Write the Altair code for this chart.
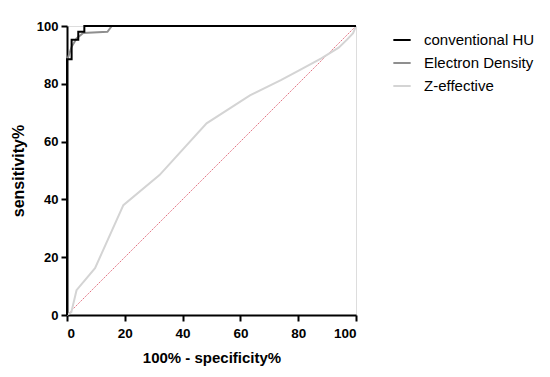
import altair as alt
import pandas as pd

series_names = ["conventional HU", "Electron Density", "Z-effective"]
series_colors = ["#000000", "#8f8f8f", "#d4d4d4"]

hu_x = [0, 0, 1.6, 1.6, 3.9, 3.9, 6.0, 6.0, 100]
hu_y = [0, 88.5, 88.5, 95.2, 95.2, 98, 98, 100, 100]

ed_x = [0, 0, 1.6, 3.3, 5.6, 14, 15.5, 100]
ed_y = [0, 88, 92.8, 95.7, 97.6, 98, 100, 100]

z_x = [0, 1.5, 3.3, 9.7, 19.5, 32, 48.3, 63.3, 74, 80, 88, 94, 96.8, 99, 100]
z_y = [0, 1, 8.6, 16.2, 38, 48.4, 66.3, 76, 81.3, 84.5, 88.8, 92.5, 95.2, 97.5, 100]

diag_x = [0, 100]
diag_y = [0, 100]

rows = []
for k, (name, xs, ys) in enumerate(zip(series_names, [hu_x, ed_x, z_x], [hu_y, ed_y, z_y])):
    for i, (a, b) in enumerate(zip(xs, ys)):
        rows.append({"series": name, "x": a, "y": b, "order": i})
df = pd.DataFrame(rows)
diag = pd.DataFrame({"x": diag_x, "y": diag_y})

font = "Liberation Sans"

xscale = alt.Scale(domain=[0, 100], nice=False)
yscale = alt.Scale(domain=[0, 100], nice=False)

x_axis = alt.Axis(values=[0, 20, 40, 60, 80, 100], grid=False, domainColor="black",
                  domainWidth=2, tickColor="black", tickWidth=2, tickSize=6,
                  labelFont=font, labelFontWeight="bold", labelFontSize=13.5,
                  labelColor="black", titleFont=font, titleFontWeight="bold",
                  titleFontSize=15, titleColor="black", labelPadding=5, titlePadding=11)
y_axis = alt.Axis(values=[0, 20, 40, 60, 80, 100], grid=False, domainColor="black",
                  domainWidth=2, tickColor="black", tickWidth=2, tickSize=6,
                  labelFont=font, labelFontWeight="bold", labelFontSize=13,
                  labelColor="black", titleFont=font, titleFontWeight="bold",
                  titleFontSize=16, titleColor="black", labelPadding=3, titlePadding=10)

diag_line = alt.Chart(diag).mark_line(color="#e2707f", strokeWidth=1, strokeDash=[1.5, 1]).encode(
    x=alt.X("x:Q", scale=xscale, axis=x_axis, title="100% - specificity%"),
    y=alt.Y("y:Q", scale=yscale, axis=y_axis, title="sensitivity%"),
)

color_enc = alt.Color("series:N", scale=alt.Scale(domain=series_names, range=series_colors),
                      sort=series_names,
                      legend=alt.Legend(title=None, orient="none", legendX=325, legendY=4,
                                        symbolType="stroke", symbolSize=300, symbolStrokeWidth=2,
                                        labelFont=font, labelFontSize=15, labelColor="black",
                                        labelOffset=12, rowPadding=5))

def series_layer(name):
    return alt.Chart(df[df["series"] == name]).mark_line(strokeWidth=2, clip=False).encode(
        x=alt.X("x:Q", scale=xscale),
        y=alt.Y("y:Q", scale=yscale),
        order="order:Q",
        color=color_enc,
    )

chart = alt.layer(
    diag_line,
    series_layer("Z-effective"),
    series_layer("Electron Density"),
    series_layer("conventional HU"),
).properties(
    width=289, height=289,
    autosize=alt.AutoSizeParams(type="none"),
    padding={"left": 59, "top": 18, "right": 186, "bottom": 54},
).configure_view(stroke=None).configure(background="white")

chart.save("out.html", embed_options={"renderer": "svg", "actions": False})
